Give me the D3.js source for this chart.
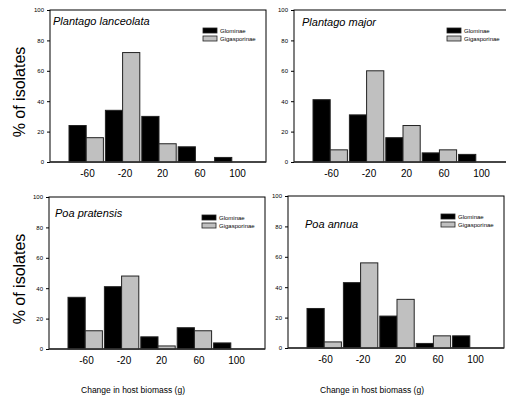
<!DOCTYPE html>
<html>
<head>
<meta charset="utf-8">
<script src="https://cdn.jsdelivr.net/npm/d3@7"></script>
<style>
  body { margin: 0; background: #fff; }
  svg { display: block; font-family: Arial, "Liberation Sans", sans-serif; }
</style>
</head>
<body>
<svg id="chart" width="506" height="398"></svg>
<script>
// histogram bins (change in host biomass, g)
const bins = [-60, -20, 20, 60, 100]
const groups = ['Glominae', 'Gigasporinae']
const species = ['Plantago lanceolata', 'Plantago major', 'Poa pratensis', 'Poa annua']
const yTicks = [0, 20, 40, 60, 80, 100]

// % of isolates, one row per species
const glominae = [
    [24, 34, 30, 10, 3],
    [41, 31, 16, 6, 5],
    [34, 41, 8, 14, 4],
    [26, 43, 21, 3, 8]
]
const gigasporinae = [
    [16, 72, 12, 0, 0],
    [8, 60, 24, 8, 0],
    [12, 48, 2, 12, 0],
    [4, 56, 32, 8, 0]
]

// panel frames: left axis x, top y, bottom y, title offset
const panels = [
    { x: 50, top: 10, bottom: 162, tx: 3, ty: 15, ylab: true },
    { x: 294, top: 10, bottom: 162, tx: 8, ty: 16, ylab: false },
    { x: 49, top: 197, bottom: 349, tx: 6, ty: 20, ylab: true },
    { x: 288, top: 196, bottom: 348, tx: 17, ty: 32, ylab: false }
]
const W = 216
const colors = { Glominae: '#000', Gigasporinae: '#c0c0c0' }

const svg = d3.select('#chart')

panels.forEach((p, i) => {
    let g = svg.append('g')
    let y = d3.scaleLinear().domain([0, 100]).range([p.bottom, p.top])
    let xb = d3.scaleBand().domain(bins).range([p.x + 19, p.x + 199]).paddingInner(0.055)
    let xs = d3.scaleBand().domain(groups).range([0, xb.bandwidth()])
    let xl = d3.scaleLinear().domain([-60, 100]).range([p.x + 37, p.x + 187])

    // frame
    g.append('rect')
        .attr('x', p.x).attr('y', p.top)
        .attr('width', W).attr('height', p.bottom - p.top)
        .attr('fill', 'none').attr('stroke', '#000').attr('stroke-width', 1)

    let rows = bins.map((b, j) => ({ bin: b, Glominae: glominae[i][j], Gigasporinae: gigasporinae[i][j] }))

    g.selectAll('g.bin').data(rows).enter()
        .append('g')
        .attr('class', 'bin')
        .attr('transform', d => `translate(${xb(d.bin)},0)`)
        .selectAll('rect').data(d => groups.map(k => ({ key: k, value: d[k] })))
        .enter().append('rect')
        .attr('x', d => xs(d.key))
        .attr('y', d => y(d.value))
        .attr('width', xs.bandwidth())
        .attr('height', d => p.bottom - y(d.value))
        .attr('fill', d => colors[d.key])
        .attr('stroke', '#222')
        .attr('stroke-width', 1)

    // baseline
    g.append('line')
        .attr('x1', p.x).attr('x2', p.x + W)
        .attr('y1', p.bottom).attr('y2', p.bottom)
        .attr('stroke', '#333').attr('stroke-width', 1.5)

    // y axis
    let ya = g.append('g')
        .attr('transform', `translate(${p.x},0)`)
        .call(d3.axisLeft(y).tickValues(yTicks).tickSize(3).tickPadding(3))
    ya.select('.domain').remove()
    ya.selectAll('text').attr('font-size', 6).attr('font-family', 'Arial, "Liberation Sans", sans-serif').attr('fill', '#000')

    // x tick labels (plain hyphen minus, as in the original)
    let xa = g.append('g')
        .attr('transform', `translate(0,${p.bottom})`)
        .call(d3.axisBottom(xl).tickValues(bins).tickSize(0).tickPadding(0).tickFormat(d => String(d)))
    xa.select('.domain').remove()
    xa.selectAll('text')
        .attr('dy', null).attr('y', 15)
        .attr('font-size', 10).attr('font-family', 'Arial, "Liberation Sans", sans-serif').attr('fill', '#000')

    // species title
    g.append('text')
        .attr('x', p.x + p.tx).attr('y', p.top + p.ty)
        .attr('font-size', 11).attr('font-style', 'italic')
        .text(species[i])

    // legend
    let lg = g.append('g').attr('transform', `translate(${p.x + 153},${p.top + 18})`)
    groups.forEach((k, j) => {
        lg.append('rect')
            .attr('x', 0).attr('y', j * 8)
            .attr('width', 14).attr('height', 5)
            .attr('fill', colors[k]).attr('stroke', '#222').attr('stroke-width', 0.8)
        lg.append('text')
            .attr('x', 17).attr('y', j * 8 + 4.5)
            .attr('font-size', 6)
            .text(k)
    })

    if (p.ylab) {
        g.append('text')
            .attr('transform', `translate(25,${(p.top + p.bottom) / 2 + 6}) rotate(-90)`)
            .attr('text-anchor', 'middle')
            .attr('font-size', 16)
            .text('% of isolates')
    }
})

// x axis titles
;[{ x: 133 }, { x: 372 }].forEach(t => {
    svg.append('text')
        .attr('x', t.x).attr('y', 393)
        .attr('text-anchor', 'middle')
        .attr('font-size', 8.5)
        .text('Change in host biomass (g)')
})
</script>
</body>
</html>
